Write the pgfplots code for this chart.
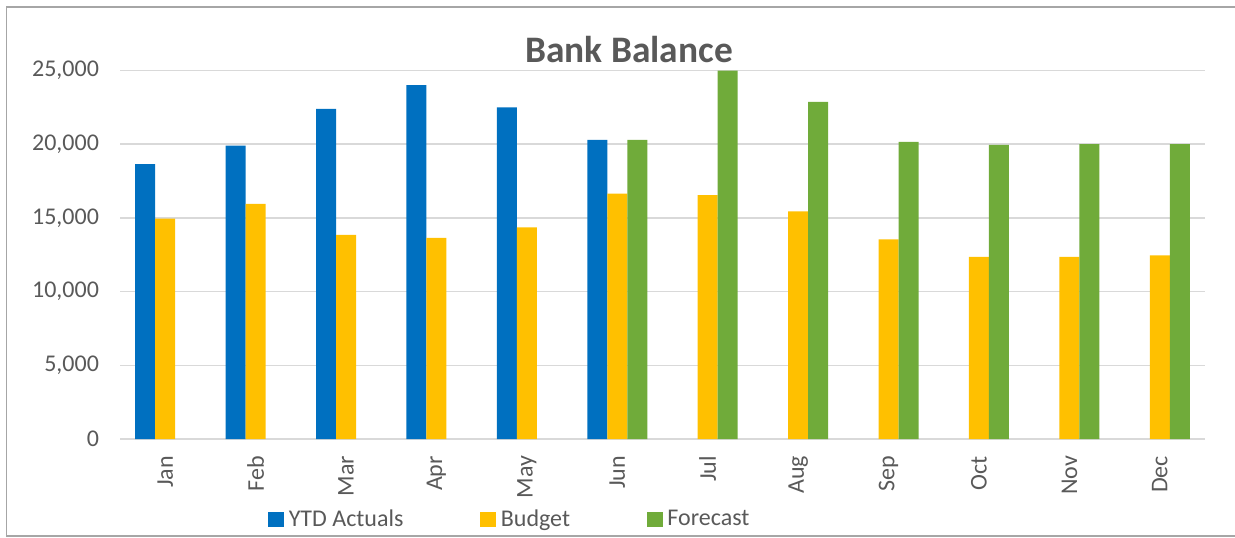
\documentclass[border=0pt]{standalone}
\usepackage{fontspec}
\setmainfont{Carlito}
\usepackage{pgfplots}
\pgfplotsset{compat=1.18}
\definecolor{cblue}{HTML}{0070C0}
\definecolor{cgold}{HTML}{FFC000}
\definecolor{cgreen}{HTML}{70AB3A}
\definecolor{ctext}{HTML}{595959}
\definecolor{cgrid}{HTML}{D9D9D9}
\definecolor{cframe}{HTML}{A6A6A6}
\begin{document}
\begin{tikzpicture}
\path[use as bounding box] (0,0) rectangle (617.5pt,268.5pt);
\draw[cframe, line width=0.9pt] (620pt,264.8pt) -- (3.2pt,264.8pt) -- (3.2pt,0.5pt) -- (620pt,0.5pt);
\begin{axis}[
  at={(60pt,49pt)}, anchor=south west,
  scale only axis, width=542.5pt, height=184.25pt,
  xmin=-0.5, xmax=11.5, ymin=0, ymax=25000,
  clip=false,
  ybar=0pt, bar width=10pt,
  axis line style={draw=none},
  major tick length=0pt,
  ytick={0,5000,10000,15000,20000,25000},
  ymajorgrids, grid style={cgrid, line width=0.8pt},
  xtick={0,...,11},
  xticklabels={Jan,Feb,Mar,Apr,May,Jun,Jul,Aug,Sep,Oct,Nov,Dec},
  xticklabel style={rotate=90, anchor=east, font=\fontsize{12}{14}\selectfont, text=ctext, xshift=-5pt},
  yticklabel style={font=\fontsize{12}{14}\selectfont, text=ctext, xshift=-7pt},
  /pgf/number format/.cd, fixed, 1000 sep={,}, assume math mode=true, /pgfplots/.cd,
  scaled y ticks=false,
  legend columns=3,
  legend style={at={(0.1364,-0.2185)}, anchor=west, draw=none, fill=none, inner sep=0pt,
    font=\fontsize{12}{14}\selectfont, text=ctext,
    /tikz/every odd column/.append style={column sep=1.2pt},
    /tikz/every even column/.append style={column sep=37.5pt},
    nodes={inner sep=1pt}},
  legend image code/.code={\fill[#1] (0pt,-3.75pt) rectangle (8pt,3.75pt);},
]
\addplot[fill=cblue, draw=none] coordinates {(0,18650) (1,19900) (2,22400) (3,24000) (4,22500) (5,20300)};
\addplot[fill=cgold, draw=none] coordinates {(0,14950) (1,15950) (2,13850) (3,13650) (4,14350) (5,16650) (6,16550) (7,15450) (8,13550) (9,12350) (10,12350) (11,12450)};
\addplot[fill=cgreen, draw=none] coordinates {(5,20300) (6,25000) (7,22880) (8,20150) (9,19950) (10,20000) (11,20000)};
\legend{YTD Actuals, Budget, Forecast}
\end{axis}
\node[anchor=base, font=\fontsize{18.7}{22}\selectfont\bfseries, text=ctext, inner sep=0pt] at (314.5pt,237pt) {Bank Balance};
\end{tikzpicture}
\end{document}
